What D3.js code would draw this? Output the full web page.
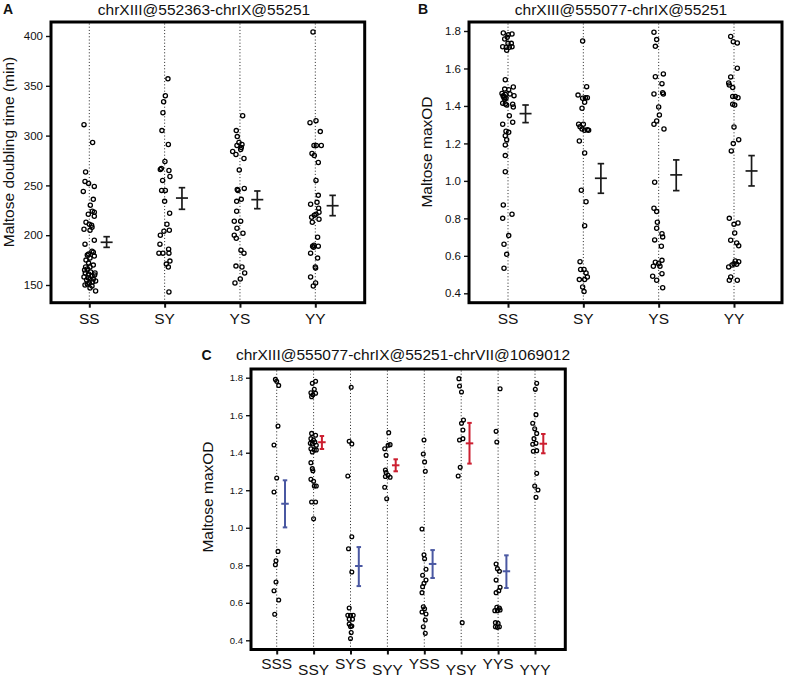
<!DOCTYPE html>
<html><head><meta charset="utf-8">
<script src="https://cdn.jsdelivr.net/npm/d3@7"></script>
<style>
body{margin:0;background:#fff;}
svg text{font-family:"Liberation Sans",Arial,Helvetica,sans-serif;fill:#111;}
</style></head>
<body><svg id="c" width="786" height="677"></svg>
<script>
// ---------- DATA ----------
const catsA = ["SS","SY","YS","YY"];
const catsB = ["SS","SY","YS","YY"];
const catsC = ["SSS","SSY","SYS","SYY","YSS","YSY","YYS","YYY"];
const ticksA = [150,200,250,300,350,400];
const ticksBC = [0.4,0.6,0.8,1.0,1.2,1.4,1.6,1.8];

// points: [value, jitter]
const ptsA_SS = [[311,-5.3],[293,3.3],[263.5,-3.7],[254,-4.3],[252,-0.7],[249,5],[244,-6],[236,4],[230,1],[224,3],[223,5],[221,-1],[219,5],[213,-3.3],[211,0],[210,2.3],[208,2.7],[206,-5.3],[205,0.7],[195,5],[191,-4.3],[184,2.7],[183,4],[181,-0.7],[180,-2],[179,5],[177,0.7],[175,-3.3],[172,-0.7],[170,4],[168,-3.7],[168,0.7],[166,-2],[165,-4.7],[163,1.3],[162,-4],[162,5.7],[161,-0.7],[160,5.3],[159,2.7],[158,-5.3],[157,-1],[156,0.7],[156,4],[155,-2.7],[154,6.3],[153,3.3],[152,0],[151,-2],[150,-4.3],[149,2.7],[147,0.7],[144,6.3]];
const ptsA_SY = [[357,3.3],[340,0.7],[334,-1],[323,-1.7],[305,-2.7],[291,3.7],[274,0.3],[267,-3.3],[266,-4.3],[265,4.3],[259,5.3],[255,-2],[245,-3],[245,0.7],[234,0],[222,5],[211,2.3],[205,4.7],[204,-0.7],[200,-4.3],[191,-4.7],[186,4],[182,-5.7],[182,-1.7],[182,4.3],[174,5.3],[171,1.7],[168,3.7],[143,4.3]];
const ptsA_YS = [[320,2.7],[305,-3.7],[299,-2.7],[293,-1],[291,2],[290,-3],[288,1.3],[286,0.7],[284,-7.3],[281,-4],[277,4],[265.5,-0.7],[247,4.3],[246,-2.7],[245,-2],[236,1.3],[234,-3.3],[224,-3.3],[214,-5.7],[214,0.7],[207,-3],[202,3],[200,-5.7],[197,-3.7],[185,1],[182,4],[169,-4],[168,2],[162,4.7],[156,0.3],[152,-5]];
const ptsA_YY = [[404,-2.3],[313,-5.3],[315,0.7],[304,5],[290,-1.3],[290,1],[290,6],[282,-3.3],[280,-1],[273,3],[255,0.7],[240,3],[231,-4.7],[233,1.7],[227,3.3],[223,3.7],[221,0.7],[220,-1],[218,-3.7],[216,3.7],[213,-3],[198,2.3],[190,-1.3],[189,-2.7],[188,-1.7],[189,3],[182,-4.7],[177,2.3],[168,0],[167,0.3],[158,-4.7],[152,0.3],[149,-2]];

const ptsB_SS = [[1.789,-4.7],[1.780,0.3],[1.784,4],[1.757,-3.3],[1.766,-0.7],[1.716,-5.3],[1.713,-1.7],[1.713,1.3],[1.716,4],[1.697,-1.3],[1.734,3.3],[1.734,0],
 [1.540,-2.7],[1.490,-3.3],[1.487,0.7],[1.501,5.3],[1.467,-6],[1.462,-2.7],[1.464,2],[1.455,6],[1.455,-4.7],[1.444,-4],[1.441,-2],[1.452,-4.7],[1.436,-3.3],[1.414,-5.3],[1.410,-2.7],[1.405,-1.3],[1.409,4.7],[1.394,5.3],[1.348,1.3],[1.313,4.7],[1.302,-5.3],[1.265,-2],[1.259,0.7],[1.241,-2.7],[1.220,-1.3],[1.192,-2.7],[1.135,-2.7],[1.049,-2.7],[0.871,-4.7],[0.800,-5.3],[0.822,4],[0.708,0.7],[0.662,-4],[0.608,-1.3],[0.534,-4]];
const ptsB_SY = [[1.747,-0.7],[1.503,3.3],[1.458,-5.3],[1.441,-0.7],[1.444,2],[1.444,4],[1.420,1.3],[1.388,-1.3],[1.302,-4.7],[1.302,0],[1.289,-3.3],[1.277,-1.3],[1.270,1.3],[1.273,4],[1.270,5.3],[1.213,-4],[1.149,1.3],[0.950,-2],[0.889,2.7],[0.761,1.3],[0.569,-3.3],[0.527,-2.7],[0.527,0.7],[0.509,2.7],[0.487,4],[0.473,-4],[0.473,1.3],[0.434,-0.7],[0.409,0.7]];
const ptsB_YS = [[1.793,-4.7],[1.754,-2],[1.718,-3.3],[1.556,-3.3],[1.571,4.7],[1.519,3.3],[1.464,-4.7],[1.471,4],[1.464,4.7],[1.394,0],[1.352,0.7],[1.320,-2],[1.302,-4.7],[1.277,5.3],[0.993,-4],[0.854,-4.7],[0.836,-2],[0.779,-1.3],[0.747,-2],[0.718,3.3],[0.701,4],[0.685,-4],[0.651,2.7],[0.576,3.3],[0.566,-3.3],[0.558,0],[0.544,-5.3],[0.544,1.3],[0.491,-6],[0.470,-2],[0.505,3.3],[0.430,4]];
const ptsB_YY = [[1.771,-3.3],[1.743,-0.7],[1.736,3.3],[1.601,3.3],[1.555,-3.3],[1.523,-5.3],[1.512,-4.7],[1.498,-1.3],[1.451,-1.3],[1.451,1.3],[1.444,4],[1.409,-1.3],[1.405,0.7],[1.288,0],[1.220,4.7],[1.199,-0.7],[1.160,-2.7],[0.800,-4.7],[0.768,0],[0.775,4],[0.722,0.7],[0.683,-3.3],[0.669,2.7],[0.654,4.7],[0.573,1.3],[0.569,4.7],[0.558,0],[0.551,-2],[0.555,2.7],[0.541,-5.3],[0.487,-3.3],[0.470,-4.7],[0.470,3.3]];

const ptsC_SSS = [[1.791,-1.3],[1.781,0],[1.759,2],[1.542,1.3],[1.441,-2.7],[1.265,0],[1.191,-2.7],[0.874,1.3],[0.824,-0.7],[0.803,-1.3],[0.711,-0.7],[0.664,-2.7],[0.615,2],[0.539,-2]];
const ptsC_SSY = [[1.781,2],[1.770,-1.3],[1.738,0.7],[1.717,2],[1.720,-2.7],[1.709,-0.7],[1.699,-2],[1.503,-2],[1.493,2],[1.475,-2.7],[1.468,0],[1.457,1.3],[1.450,-3.3],[1.447,-1.3],[1.440,2.7],[1.421,-2.7],[1.415,0.7],[1.415,2.7],[1.404,-1.3],[1.347,-2.7],[1.315,-1.3],[1.304,-0.7],[1.258,-2.7],[1.248,0],[1.223,0.7],[1.223,2.7],[1.137,-2],[1.137,2],[1.048,0]];
const ptsC_SYS = [[1.749,0.7],[1.461,-1.3],[1.447,1.3],[1.276,-2.7],[0.952,1.3],[0.888,-2],[0.764,1.3],[0.572,-1.3],[0.533,-2.7],[0.533,0],[0.533,2.7],[0.512,-1.3],[0.512,2],[0.487,-1.3],[0.476,1.3],[0.474,0],[0.441,0.7],[0.409,0]];
const ptsC_SYY = [[1.507,1.3],[1.443,2.7],[1.440,0.7],[1.421,-2.7],[1.386,-1.3],[1.308,-2],[1.294,-1.3],[1.280,0.7],[1.269,2.7],[1.273,-2],[1.216,-2.7],[1.155,-0.7]];
const ptsC_YSS = [[1.468,-0.3],[1.393,-1],[1.351,0.3],[1.301,1],[0.993,-2.3],[0.856,-0.3],[0.835,0.3],[0.779,1.7],[0.747,-1.7],[0.721,1.7],[0.704,-0.3],[0.686,-1.7],[0.654,-2.3],[0.579,-1],[0.568,0.3],[0.551,-2.3],[0.540,1.7],[0.508,1],[0.472,-1],[0.437,1]];
const ptsC_YSY = [[1.795,-2.3],[1.756,-1.7],[1.724,0.3],[1.574,2.3],[1.557,0.3],[1.521,1.7],[1.475,1.7],[1.468,-1.7],[1.322,-1],[1.276,-3],[0.494,1]];
const ptsC_YYS = [[1.741,2],[1.514,-2],[1.457,-1.3],[0.807,-2],[0.782,-0.7],[0.768,1.3],[0.721,-2],[0.683,2],[0.664,0.7],[0.654,-2],[0.576,-1.3],[0.572,1.3],[0.558,-3.3],[0.558,-0.7],[0.562,2],[0.494,-2.7],[0.490,0],[0.469,-0.7],[0.472,-2.7],[0.472,1.3]];
const ptsC_YYY = [[1.770,1.7],[1.738,0.3],[1.603,1],[1.557,-2.3],[1.528,-0.3],[1.503,1.7],[1.475,-1],[1.450,1],[1.445,-2.3],[1.408,-1.7],[1.411,1.7],[1.290,1.7],[1.223,-0.3],[1.201,3],[1.162,1]];

// error bars: mean, low, high
const meanA = [192.9,237.3,235.7,229.6];
const lowA  = [187.8,226.0,226.6,219.6];
const highA = [198.5,247.7,244.4,240.0];
const meanB = [1.359,1.014,1.032,1.053];
const lowB  = [1.311,0.934,0.948,0.973];
const highB = [1.405,1.092,1.112,1.135];
const meanC = [1.128,1.456,0.796,1.333,0.807,1.450,0.768,1.448];
const lowC  = [1.002,1.420,0.689,1.301,0.732,1.342,0.679,1.397];
const highC = [1.253,1.489,0.897,1.365,0.881,1.559,0.853,1.500];
const groupC = ["S","Y","S","Y","S","Y","S","Y"]; // last locus allele

// ---------- DRAW ----------
const svg = d3.select("#c");
const BLUE = "#4a58a2", RED = "#cc1f30";

function panel(o){
  const g = svg.append("g");
  const x = d3.scalePoint().domain(o.cats).range(o.xr);
  const y = d3.scaleLinear().domain(o.yd).range(o.yr);
  const step = x.step();
  // dotted guide lines
  g.selectAll(".guide").data(o.cats).enter().append("line")
    .attr("x1",d=>x(d)).attr("x2",d=>x(d))
    .attr("y1",o.box[1]+1.5).attr("y2",o.box[3]-1.5)
    .attr("stroke","#222").attr("stroke-width",1).attr("stroke-dasharray","1,2.2");
  // y axis
  const ya = d3.axisLeft(y).tickValues(o.ticks).tickFormat(o.fmt).tickSize(4).tickPadding(3);
  const yg = g.append("g").attr("transform",`translate(${o.box[0]-1},0)`).call(ya);
  yg.select(".domain").remove();
  yg.selectAll(".tick line").attr("stroke","#111").attr("stroke-width",1.4);
  yg.selectAll(".tick text").style("font-size",o.tfs+"px").attr("fill","#222");
  // x axis
  const xa = d3.axisBottom(x).tickSize(4).tickPadding(0).tickFormat("");
  const xg = g.append("g").attr("transform",`translate(0,${o.box[3]+1})`).call(xa);
  xg.select(".domain").remove();
  xg.selectAll(".tick line").attr("stroke","#111").attr("stroke-width",2);
  g.selectAll(".xl").data(o.cats).enter().append("text")
    .attr("x",d=>x(d)).attr("y",(d,i)=>o.xlY + (o.stagger && i%2 ? o.stagger : 0))
    .attr("text-anchor","middle").style("font-size","15.5px").attr("fill","#111").text(d=>d);
  // points
  o.cats.forEach((c,i)=>{
    g.selectAll(null).data(o.pts[i]).enter().append("circle")
      .attr("cx",d=>x(c)+d[1]*step/o.jstep).attr("cy",d=>y(d[0]))
      .attr("r",o.r).attr("fill","none").attr("stroke","#000").attr("stroke-width",1.3);
  });
  // error bars
  o.cats.forEach((c,i)=>{
    const cx = x(c)+step*o.eoff;
    const col = o.colors ? o.colors[i] : "#1a1a1a";
    const eg = g.append("g").attr("stroke",col).attr("stroke-width",o.ew).attr("fill","none");
    eg.append("line").attr("x1",cx).attr("x2",cx).attr("y1",y(o.hi[i])).attr("y2",y(o.lo[i]));
    eg.append("line").attr("x1",cx-o.cap/2).attr("x2",cx+o.cap/2).attr("y1",y(o.hi[i])).attr("y2",y(o.hi[i]));
    eg.append("line").attr("x1",cx-o.cap/2).attr("x2",cx+o.cap/2).attr("y1",y(o.lo[i])).attr("y2",y(o.lo[i]));
    eg.append("line").attr("x1",cx-o.mw/2).attr("x2",cx+o.mw/2).attr("y1",y(o.mean[i])).attr("y2",y(o.mean[i]));
  });
  // box
  g.append("rect").attr("x",o.box[0]).attr("y",o.box[1])
    .attr("width",o.box[2]-o.box[0]).attr("height",o.box[3]-o.box[1])
    .attr("fill","none").attr("stroke","#000").attr("stroke-width",3);
  // title, letter, y label
  svg.append("text").attr("x",o.title[1]).attr("y",o.title[2]).attr("text-anchor","middle")
    .style("font-size","15.5px").text(o.title[0]);
  svg.append("text").attr("x",o.letter[1]).attr("y",o.letter[2])
    .style("font-size","14px").style("font-weight","bold").text(o.letter[0]);
  svg.append("text").attr("transform",`translate(${o.ylab[1]},${o.ylab[2]}) rotate(-90)`)
    .attr("text-anchor","middle").style("font-size","15.5px").text(o.ylab[0]);
}

panel({cats:catsA, xr:[89.3,315.3], yd:[150,400], yr:[285,36], box:[51,22,364.7,302.7],
  ticks:ticksA, fmt:d3.format("d"), tfs:11.5, xlY:324, r:2.1, jstep:75.3,
  pts:[ptsA_SS,ptsA_SY,ptsA_YS,ptsA_YY], mean:meanA, lo:lowA, hi:highA,
  eoff:0.23, ew:1.7, cap:6.5, mw:12,
  title:["chrXIII@552363-chrIX@55251",204,15], letter:["A",3,13.5],
  ylab:["Maltose doubling time (min)",14,152]});

panel({cats:catsB, xr:[508,734], yd:[0.4,1.8], yr:[293.3,31], box:[469,22,782,302.7],
  ticks:ticksBC, fmt:d3.format(".1f"), tfs:11.5, xlY:324, r:2.1, jstep:75.3,
  pts:[ptsB_SS,ptsB_SY,ptsB_YS,ptsB_YY], mean:meanB, lo:lowB, hi:highB,
  eoff:0.233, ew:1.7, cap:6.5, mw:12,
  title:["chrXIII@555077-chrIX@55251",621,15], letter:["B",418,13.5],
  ylab:["Maltose maxOD",432,152]});

panel({cats:catsC, xr:[276.7,535], yd:[0.4,1.8], yr:[640.3,377.7], box:[251,369,565.3,649.5],
  ticks:ticksBC, fmt:d3.format(".1f"), tfs:9.5, xlY:669, stagger:6, r:1.9, jstep:36.9,
  pts:[ptsC_SSS,ptsC_SSY,ptsC_SYS,ptsC_SYY,ptsC_YSS,ptsC_YSY,ptsC_YYS,ptsC_YYY],
  mean:meanC, lo:lowC, hi:highC, colors:groupC.map(g=>g==="S"?BLUE:RED),
  eoff:0.225, ew:2, cap:4.5, mw:7.5,
  title:["chrXIII@555077-chrIX@55251-chrVII@1069012",403,360], letter:["C",201.5,360],
  ylab:["Maltose maxOD",213,497]});
</script></body></html>
